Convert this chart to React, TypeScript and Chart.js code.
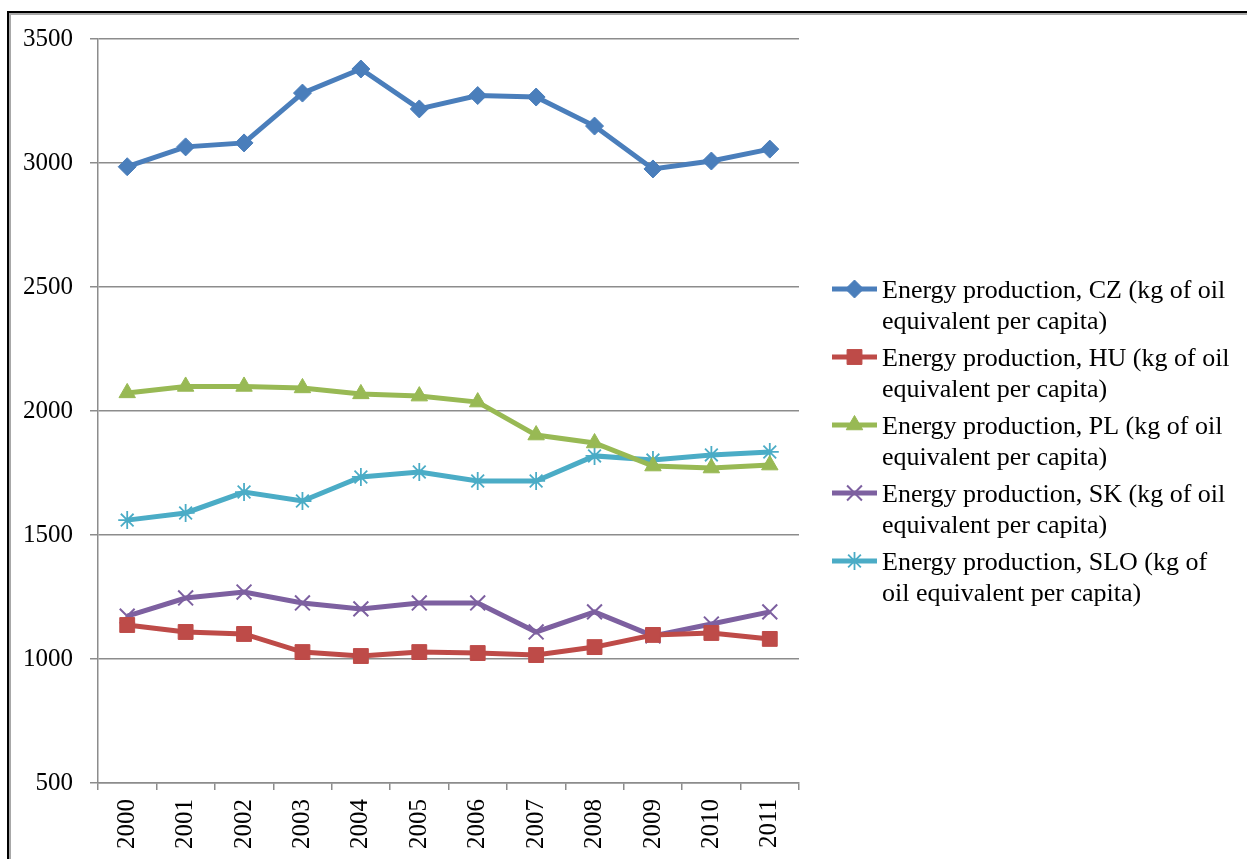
import React, { useEffect, useRef } from "react";
import { Chart, registerables } from "chart.js";
import { drawPoint } from "chart.js/helpers";

Chart.register(...registerables);

const years = ["2000", "2001", "2002", "2003", "2004", "2005", "2006", "2007", "2008", "2009", "2010", "2011"];

const czValues = [2985, 3065, 3081, 3282, 3379, 3218, 3272, 3266, 3149, 2976, 3008, 3056];
const huValues = [1137, 1109, 1101, 1028, 1012, 1028, 1024, 1016, 1048, 1097, 1105, 1081];
const plValues = [2073, 2099, 2099, 2093, 2069, 2060, 2036, 1903, 1871, 1778, 1770, 1782];
const skValues = [1173, 1246, 1270, 1226, 1202, 1226, 1226, 1109, 1190, 1093, 1141, 1190];
const sloValues = [1560, 1589, 1673, 1637, 1734, 1754, 1718, 1718, 1819, 1802, 1823, 1835];

const seriesLabels = [
  "Energy production, CZ (kg of oil equivalent per capita)",
  "Energy production, HU (kg of oil equivalent per capita)",
  "Energy production, PL (kg of oil equivalent per capita)",
  "Energy production, SK (kg of oil equivalent per capita)",
  "Energy production, SLO (kg of oil equivalent per capita)",
];

const legendLines = [
  ["Energy production, CZ (kg of oil", "equivalent per capita)"],
  ["Energy production, HU (kg of oil", "equivalent per capita)"],
  ["Energy production, PL (kg of oil", "equivalent per capita)"],
  ["Energy production, SK (kg of oil", "equivalent per capita)"],
  ["Energy production, SLO (kg of", "oil equivalent per capita)"],
];

const yTicks = [500, 1000, 1500, 2000, 2500, 3000, 3500];

const FONT = '"Liberation Serif", "Times New Roman", serif';
const GRID = "#8c8c8c";

const legendPlugin = {
  id: "customLegend",
  afterDraw(chart: any) {
    const ctx = chart.ctx;
    ctx.save();
    chart.data.datasets.forEach((ds: any, i: number) => {
      const y0 = 289 + i * 68;
      ctx.strokeStyle = ds.borderColor;
      ctx.lineWidth = ds.borderWidth;
      ctx.beginPath();
      ctx.moveTo(832, y0);
      ctx.lineTo(877, y0);
      ctx.stroke();
      ctx.fillStyle = ds.pointBackgroundColor;
      ctx.strokeStyle = ds.pointBorderColor;
      ctx.lineWidth = ds.pointBorderWidth;
      drawPoint(ctx, { pointStyle: ds.pointStyle, radius: ds.pointRadius, rotation: 0, borderWidth: ds.pointBorderWidth }, 854.5, y0);
      ctx.fillStyle = "#000";
      ctx.font = `26px ${FONT}`;
      ctx.textBaseline = "middle";
      ctx.textAlign = "left";
      legendLines[i].forEach((line, j) => {
        ctx.fillText(line, 882, y0 + 2 + j * 31);
      });
    });
    ctx.restore();
  },
};

function mk(label: string, data: number[], color: string, style: string, radius: number, bw: number) {
  return {
    label,
    data,
    borderColor: color,
    backgroundColor: color,
    borderWidth: 5,
    pointStyle: style,
    pointRadius: radius,
    pointHoverRadius: radius,
    pointBackgroundColor: color,
    pointBorderColor: color,
    pointBorderWidth: bw,
    tension: 0,
  };
}

export default function App() {
  const ref = useRef<HTMLCanvasElement>(null);
  useEffect(() => {
    if (!ref.current) return;
    const chart = new Chart(ref.current, {
      type: "line",
      data: {
        labels: years,
        datasets: [
          mk(seriesLabels[0], czValues, "#4A7EBB", "rectRot", 9, 1),
          mk(seriesLabels[1], huValues, "#BE4B48", "rect", 10.5, 1),
          mk(seriesLabels[2], plValues, "#98B954", "triangle", 9.5, 1),
          mk(seriesLabels[3], skValues, "#7D60A0", "crossRot", 10.5, 2),
          mk(seriesLabels[4], sloValues, "#4BACC6", "star", 9, 1.8),
        ] as any,
      },
      options: {
        responsive: false,
        animation: false,
        layout: { padding: { left: 0, top: 39, right: 448, bottom: 0 } },
        plugins: { legend: { display: false }, tooltip: { enabled: false } },
        scales: {
          x: {
            offset: true,
            grid: { offset: true, drawOnChartArea: false, drawTicks: true, tickLength: 7, color: GRID, lineWidth: 1.5 },
            border: { display: true, color: GRID, width: 1.5 },
            ticks: {
              color: "#000",
              font: { family: FONT, size: 25 },
              minRotation: 90,
              maxRotation: 90,
              padding: 9,
              autoSkip: false,
            },
            afterFit: (s: any) => {
              s.height = 76;
            },
          },
          y: {
            min: 500,
            max: 3500,
            afterBuildTicks: (s: any) => {
              s.ticks = yTicks.map((v) => ({ value: v }));
            },
            grid: { color: GRID, lineWidth: 1.5, tickLength: 8, drawTicks: true },
            border: { display: true, color: GRID, width: 1.5 },
            ticks: {
              color: "#000",
              font: { family: FONT, size: 25 },
              padding: 17,
              callback: (v: any) => String(v),
            },
            afterFit: (s: any) => {
              s.width = 98;
            },
          },
        },
      },
      plugins: [legendPlugin],
    });
    return () => chart.destroy();
  }, []);
  return (
    <div style={{ position: "fixed", left: 0, top: 0, width: 1247, height: 859, overflow: "hidden", background: "#fff" }}>
      <div
        style={{
          position: "absolute",
          left: 7,
          top: 11,
          width: 1400,
          height: 1000,
          borderLeft: "2px solid #000",
          borderTop: "2px solid #000",
        }}
      >
        <div style={{ width: "100%", height: "100%", borderLeft: "2px solid #a8a8a8", borderTop: "2px solid #a8a8a8" }} />
      </div>
      <canvas ref={ref} width={1247} height={859} style={{ position: "absolute", left: 0, top: 0, display: "block" }} />
    </div>
  );
}
